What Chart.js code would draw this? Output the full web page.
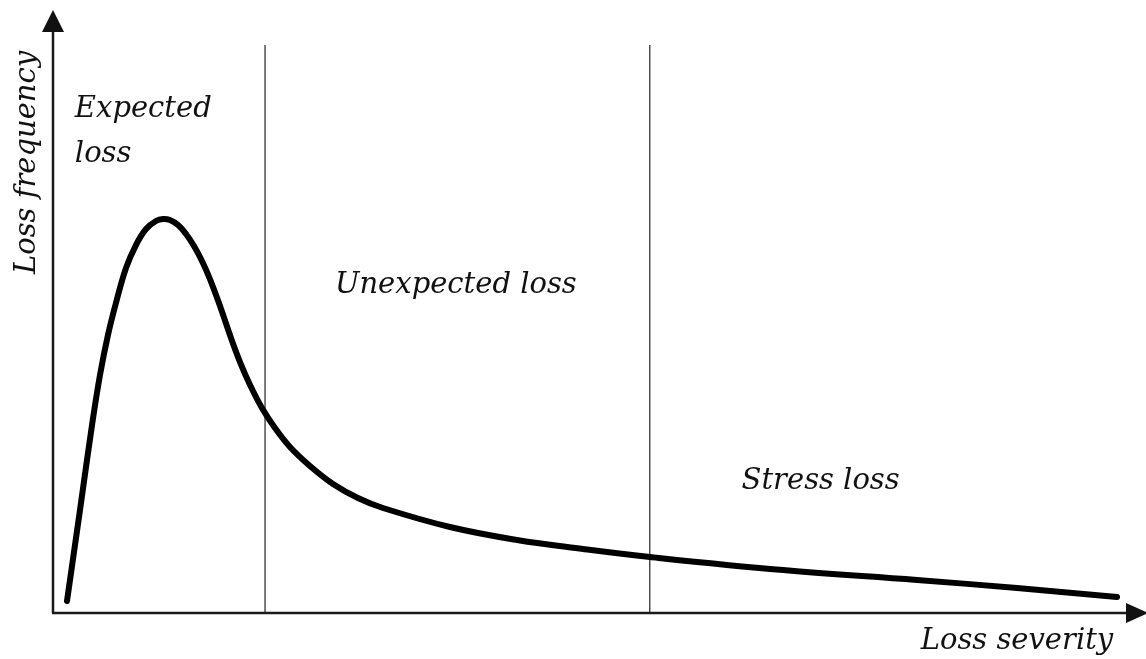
<!DOCTYPE html>
<html>
<head>
<meta charset="utf-8">
<script src="https://cdn.jsdelivr.net/npm/chart.js@4.4.1/dist/chart.umd.min.js"></script>
<style>
  html, body { margin: 0; padding: 0; background: #fff; }
  #wrap { width: 1146px; height: 659px; position: relative; }
</style>
</head>
<body>
<div id="wrap"><canvas id="chart"></canvas></div>
<script>
// Loss distribution (both axes in 0-100 units)
const severity = [1.28, 2.47, 3.57, 4.30, 5.03, 5.76, 6.68, 7.59, 8.51, 9.42, 10.06, 10.70, 11.44, 12.17, 12.90, 13.63, 14.36, 15.28, 16.19, 17.11, 18.03, 19.12, 20.31, 21.68, 23.51, 25.62, 27.90, 30.19, 36.32, 42.45, 48.49, 54.62, 66.79, 79.05, 88.20, 97.35];
const frequency = [2.00, 17.14, 31.28, 39.60, 46.26, 51.58, 57.40, 61.23, 63.89, 65.22, 65.56, 65.39, 64.56, 63.06, 61.06, 58.57, 55.57, 51.08, 46.26, 41.76, 37.94, 34.11, 30.78, 27.62, 24.46, 21.46, 19.13, 17.47, 14.31, 12.15, 10.65, 9.32, 7.15, 5.49, 4.16, 2.66];

// Region boundaries (severity) and how high they reach
const boundaries = [19.4, 54.6];
const boundaryTop = 94.5;

// Text labels
const regionNames = ['Expected', 'loss', 'Unexpected loss', 'Stress loss'];
const regionX = [2.0, 2.0, 25.8, 63.0];
const regionY = [82.5, 75.0, 53.2, 20.6];
const xTitle = 'Loss severity';
const yTitle = 'Loss frequency';

const FONT = 'italic 29px "DejaVu Serif", serif';
const INK = '#111';

const curve = severity.map((x, i) => ({ x, y: frequency[i] }));

const datasets = [{
  data: curve,
  borderColor: '#000',
  borderWidth: 6,
  pointRadius: 0,
  tension: 0.4,
  borderCapStyle: 'round',
  borderJoinStyle: 'round'
}];

boundaries.forEach(b => {
  datasets.push({
    data: [{ x: b, y: 0 }, { x: b, y: boundaryTop }],
    borderColor: '#333',
    borderWidth: 1.3,
    pointRadius: 0
  });
});

// Axes with arrow heads, plus all the text
const axesPlugin = {
  id: 'axesAndText',
  afterDraw(chart) {
    const { ctx, chartArea: a, scales } = chart;
    const sx = scales.x, sy = scales.y;
    ctx.save();
    ctx.strokeStyle = '#1a1a1a';
    ctx.fillStyle = '#111';
    ctx.lineWidth = 2.5;

    // y axis
    ctx.beginPath();
    ctx.moveTo(a.left, a.bottom);
    ctx.lineTo(a.left, a.top + 18);
    ctx.stroke();
    ctx.beginPath();
    ctx.moveTo(a.left, a.top - 2);
    ctx.lineTo(a.left - 11, a.top + 20);
    ctx.lineTo(a.left + 11, a.top + 20);
    ctx.closePath();
    ctx.fill();

    // x axis
    ctx.beginPath();
    ctx.moveTo(a.left - 1, a.bottom);
    ctx.lineTo(a.right - 18, a.bottom);
    ctx.stroke();
    ctx.beginPath();
    ctx.moveTo(a.right + 2, a.bottom);
    ctx.lineTo(a.right - 20, a.bottom - 10);
    ctx.lineTo(a.right - 20, a.bottom + 10);
    ctx.closePath();
    ctx.fill();

    // region labels
    ctx.font = FONT;
    ctx.fillStyle = INK;
    ctx.textBaseline = 'alphabetic';
    ctx.textAlign = 'left';
    regionNames.forEach((t, i) => {
      ctx.fillText(t, sx.getPixelForValue(regionX[i]), sy.getPixelForValue(regionY[i]));
    });

    // x title, right aligned near the arrow
    ctx.textAlign = 'right';
    ctx.fillText(xTitle, sx.getPixelForValue(97.0), sy.getPixelForValue(-6.0));

    // y title, rotated
    ctx.save();
    ctx.translate(sx.getPixelForValue(-1.65), sy.getPixelForValue(56.4));
    ctx.rotate(-Math.PI / 2);
    ctx.textAlign = 'left';
    ctx.fillText(yTitle, 0, 0);
    ctx.restore();

    ctx.restore();
  }
};

new Chart(document.getElementById('chart'), {
  type: 'line',
  data: { datasets },
  options: {
    responsive: true,
    maintainAspectRatio: false,
    animation: false,
    layout: { padding: { left: 53, top: 12, right: 0, bottom: 46 } },
    plugins: {
      legend: { display: false },
      tooltip: { enabled: false }
    },
    scales: {
      x: { type: 'linear', min: 0, max: 100, display: false },
      y: { type: 'linear', min: 0, max: 100, display: false }
    }
  },
  plugins: [axesPlugin]
});
</script>
</body>
</html>
